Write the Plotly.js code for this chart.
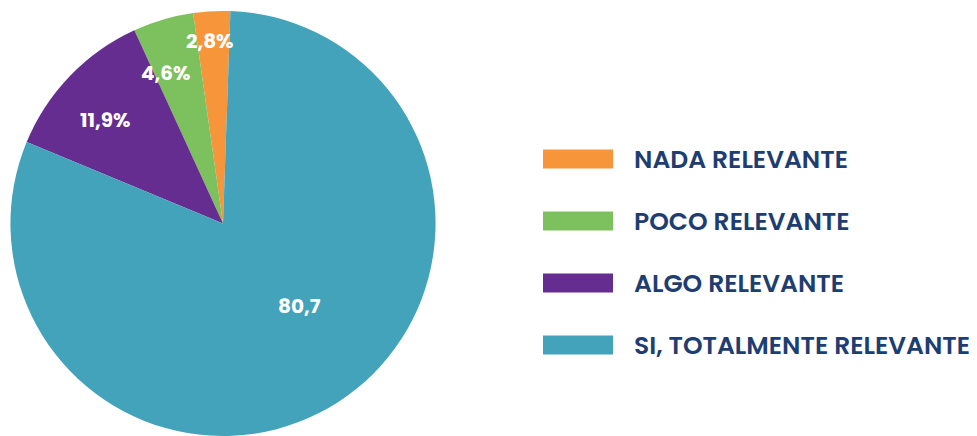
<!DOCTYPE html>
<html>
<head>
<meta charset="utf-8">
<script src="https://cdn.plot.ly/plotly-3.0.1.min.js"></script>
<style>html,body{margin:0;padding:0;background:#fff;}#chart{width:977px;height:436px;}</style>
</head>
<body>
<div id="chart"></div>
<script>
// ---- data ----
const categories = ["NADA RELEVANTE", "POCO RELEVANTE", "ALGO RELEVANTE", "SI, TOTALMENTE RELEVANTE"];
const values = [2.8, 4.6, 11.9, 80.7];
const valueLabels = ["2,8%", "4,6%", "11,9%", "80,7"];
const colors = ["#F7953B", "#7CC15E", "#662D91", "#42A3BA"];

// ---- style / layout ----
const W = 977, H = 436;
const FONT = "Poppins, Inter, 'Open Sans', sans-serif";
const startAngle = 2; // degrees clockwise from 12 o'clock where first slice begins
const domX = [10 / W, 436 / W];
const domY = [0, 0.975];
const labelRadius = [0.86, 0.76, 0.74, 0.53];
const labelNudge = [-1, -4.6, -2.6, -10];

const total = values.reduce((a, b) => a + b, 0);
// plotly (counterclockwise) anchors the rotation at the far edge of the first slice
const plotlyRotation = startAngle - 360 * values[0] / total;

const pieW = (domX[1] - domX[0]) * W, pieH = (domY[1] - domY[0]) * H;
const R = Math.min(pieW, pieH) / 2;
const cxPx = (domX[0] + domX[1]) / 2 * W;
const cyPx = H - (domY[0] + domY[1]) / 2 * H;

const annotations = [];
let cum = 0;
values.forEach((v, i) => {
  const mid = (startAngle - 360 * (cum + v / 2) / total + labelNudge[i]) * Math.PI / 180;
  cum += v;
  const r = R * labelRadius[i];
  const px = cxPx + r * Math.sin(mid);
  const py = cyPx - r * Math.cos(mid);
  annotations.push({
    x: px / W, y: 1 - py / H, xref: "paper", yref: "paper",
    text: valueLabels[i], showarrow: false, xanchor: "center", yanchor: "middle",
    font: {family: FONT, size: 20, color: "#ffffff", weight: 700}
  });
});

// custom legend built from categories
const shapes = [];
const legX0 = 543, legW = 70, legH = 19, legY0 = 159, legStep = 62, legTextX = 632;
categories.forEach((c, i) => {
  const yc = legY0 + i * legStep;
  shapes.push({
    type: "rect", xref: "paper", yref: "paper",
    x0: legX0 / W, x1: (legX0 + legW) / W,
    y0: 1 - (yc + legH / 2) / H, y1: 1 - (yc - legH / 2) / H,
    fillcolor: colors[i], line: {width: 0}
  });
  annotations.push({
    x: legTextX / W, y: 1 - yc / H, xref: "paper", yref: "paper",
    text: c, showarrow: false, xanchor: "left", yanchor: "middle",
    font: {family: FONT, size: 25, color: "#1E3D70", weight: 600}
  });
});

const trace = {
  type: "pie",
  labels: categories,
  values: values,
  sort: false,
  direction: "counterclockwise",
  rotation: plotlyRotation,
  marker: {colors: colors, line: {width: 0}},
  textinfo: "none",
  hoverinfo: "label+value",
  domain: {x: domX, y: domY},
  showlegend: false
};

Plotly.newPlot("chart", [trace], {
  width: W, height: H,
  margin: {l: 0, r: 0, t: 0, b: 0},
  paper_bgcolor: "#ffffff",
  showlegend: false,
  shapes: shapes,
  annotations: annotations
}, {displayModeBar: false, staticPlot: true});
</script>
</body>
</html>
